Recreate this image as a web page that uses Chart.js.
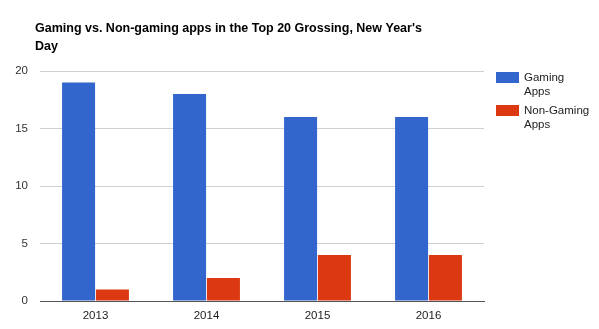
<!DOCTYPE html>
<html>
<head>
<meta charset="utf-8">
<script src="https://cdn.jsdelivr.net/npm/chart.js@4/dist/chart.umd.min.js"></script>
<style>
html,body{margin:0;padding:0;background:#fff;}
#wrap{width:599px;height:329px;position:relative;}
</style>
</head>
<body>
<div id="wrap"><canvas id="c" width="599" height="329"></canvas></div>
<script>
const titleLines = ["Gaming vs. Non-gaming apps in the Top 20 Grossing, New Year's", "Day"];
const categories = ["2013", "2014", "2015", "2016"];
const seriesNames = ["Gaming Apps", "Non-Gaming Apps"];
const gamingApps = [19, 18, 16, 16];
const nonGamingApps = [1, 2, 4, 4];
const yTicks = [0, 5, 10, 15, 20];
const colors = ["#3366cc", "#dc3912"];

const FONT = "'Liberation Sans', Arial, sans-serif";

const customTitleLegend = {
  id: 'customTitleLegend',
  afterDraw(chart) {
    const ctx = chart.ctx;
    ctx.save();
    // title
    ctx.fillStyle = '#000';
    ctx.font = 'bold 12.5px ' + FONT;
    ctx.textAlign = 'left';
    ctx.textBaseline = 'alphabetic';
    titleLines.forEach((t, i) => ctx.fillText(t, 35, 32 + i * 18));
    // legend
    ctx.font = '11.5px ' + FONT;
    chart.data.datasets.forEach((ds, i) => {
      const y0 = 72 + i * 33;
      ctx.fillStyle = ds.backgroundColor;
      ctx.fillRect(496, y0, 23, 11);
      ctx.fillStyle = '#222';
      const words = ds.label;
      const idx = words.lastIndexOf(' ');
      const lines = idx > 0 ? [words.slice(0, idx), words.slice(idx + 1)] : [words];
      lines.forEach((l, j) => ctx.fillText(l, 524, y0 + 9 + j * 14));
    });
    ctx.restore();
  }
};

new Chart(document.getElementById('c'), {
  type: 'bar',
  data: {
    labels: categories,
    datasets: [
      { label: seriesNames[0], data: gamingApps, backgroundColor: colors[0], borderWidth: 0 },
      { label: seriesNames[1], data: nonGamingApps, backgroundColor: colors[1], borderWidth: 0 }
    ]
  },
  options: {
    responsive: false,
    animation: false,
    devicePixelRatio: 1,
    layout: { padding: { left: 0, right: 115, top: 71, bottom: 0 } },
    plugins: {
      legend: { display: false },
      title: { display: false },
      tooltip: { enabled: false }
    },
    datasets: { bar: { categoryPercentage: 0.61, barPercentage: 0.975 } },
    scales: {
      x: {
        grid: { display: false, drawTicks: false },
        border: { display: true, color: '#555', width: 1 },
        ticks: { color: '#222', font: { family: FONT, size: 11.5 }, padding: 8 },
        afterFit(s) { s.height = 28; }
      },
      y: {
        min: 0, max: 20,
        afterBuildTicks(s) { s.ticks = yTicks.map(v => ({ value: v })); },
        grid: { color: '#d0d0d0', drawTicks: false },
        border: { display: false },
        ticks: { color: '#333', font: { family: FONT, size: 11.5 }, padding: 12 },
        afterFit(s) { s.width = 40; }
      }
    }
  },
  plugins: [customTitleLegend]
});
</script>
</body>
</html>
